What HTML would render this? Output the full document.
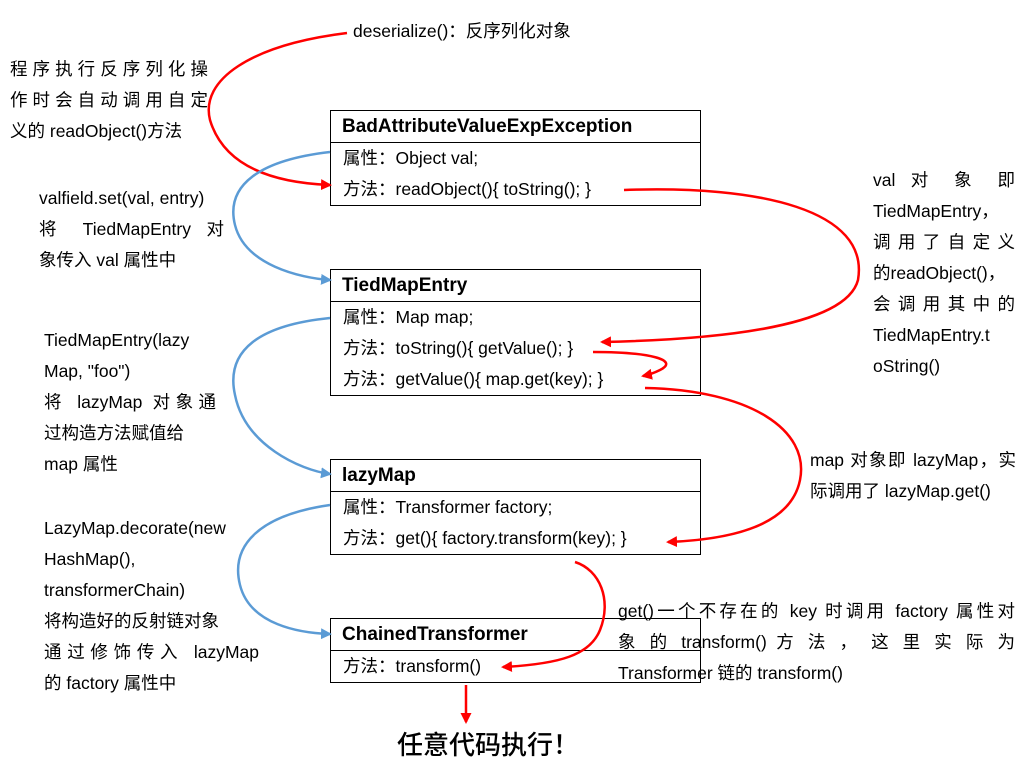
<!DOCTYPE html>
<html><head><meta charset="utf-8"><style>
html,body{margin:0;padding:0;background:#fff;}
body{width:1033px;height:766px;position:relative;overflow:hidden;font-family:"Liberation Sans","Noto Sans CJK SC",sans-serif;color:#000;}
.box{position:absolute;left:330px;width:369px;border:1.5px solid #000;}
.hd{height:31px;border-bottom:1.5px solid #000;font-weight:bold;font-size:19px;line-height:31px;padding-left:11px;}
.row{font-size:17.5px;height:31px;line-height:31px;padding-left:12px;}
.t{position:absolute;font-size:17.5px;line-height:31px;}
.t div{white-space:nowrap;}
.j{text-align:justify;text-align-last:justify;white-space:normal!important;}
svg{position:absolute;left:0;top:0;z-index:5;}
</style></head><body>
<div class="box" style="top:110px"><div class="hd">BadAttributeValueExpException</div><div class="row">属性：Object val;</div><div class="row">方法：readObject(){ toString(); }</div></div>
<div class="box" style="top:269px"><div class="hd">TiedMapEntry</div><div class="row">属性：Map map;</div><div class="row">方法：toString(){ getValue(); }</div><div class="row">方法：getValue(){ map.get(key); }</div></div>
<div class="box" style="top:459px"><div class="hd">lazyMap</div><div class="row">属性：Transformer factory;</div><div class="row">方法：get(){ factory.transform(key); }</div></div>
<div class="box" style="top:618px"><div class="hd">ChainedTransformer</div><div class="row">方法：transform()</div></div>

<div class="t" style="left:353px;top:16px">deserialize()：反序列化对象</div>
<div class="t" style="left:10px;top:54px;width:198px"><div class="j">程序执行反序列化操</div><div class="j">作时会自动调用自定</div><div>义的 readObject()方法</div></div>
<div class="t" style="left:39px;top:183px;width:185px"><div>valfield.set(val, entry)</div><div class="j">将 TiedMapEntry 对</div><div>象传入 val 属性中</div></div>
<div class="t" style="left:44px;top:325px;width:172px"><div>TiedMapEntry(lazy</div><div>Map, "foo")</div><div class="j">将 lazyMap 对象通</div><div>过构造方法赋值给</div><div>map 属性</div></div>
<div class="t" style="left:44px;top:513px;width:215px"><div>LazyMap.decorate(new</div><div>HashMap(),</div><div>transformerChain)</div><div>将构造好的反射链对象</div><div class="j">通过修饰传入 lazyMap</div><div>的 factory 属性中</div></div>
<div class="t" style="left:873px;top:165px;width:142px"><div class="j">val 对 象 即</div><div>TiedMapEntry，</div><div class="j">调用了自定义</div><div>的readObject()，</div><div class="j">会调用其中的</div><div>TiedMapEntry.t</div><div>oString()</div></div>
<div class="t" style="left:810px;top:445px;width:206px"><div class="j">map 对象即 lazyMap，实</div><div>际调用了 lazyMap.get()</div></div>
<div class="t" style="left:618px;top:596px;width:397px;"><div class="j">get()一个不存在的 key 时调用 factory 属性对</div><div class="j">象 的 transform() 方 法 ， 这 里 实 际 为</div><div>Transformer 链的 transform()</div></div>
<div class="t" style="left:397px;top:727px;font-size:26px;line-height:36px;font-weight:500;">任意代码执行！</div>

<svg width="1033" height="766">
<defs>
<marker id="ar" markerWidth="11" markerHeight="11" refX="9" refY="5.5" orient="auto" markerUnits="userSpaceOnUse"><path d="M0,0 L11,5.5 L0,11 z" fill="#f00"/></marker>
<marker id="ab" markerWidth="11" markerHeight="11" refX="9" refY="5.5" orient="auto" markerUnits="userSpaceOnUse"><path d="M0,0 L11,5.5 L0,11 z" fill="#5b9bd5"/></marker>
</defs>
<g fill="none" stroke-width="2.5">
<path d="M347,33 C250,45 200,80 210,120 C225,170 280,183 330,185" stroke="#f00" marker-end="url(#ar)"/>
<path d="M330,152 C260,160 225,185 235,225 C245,265 300,278 330,280" stroke="#5b9bd5" marker-end="url(#ab)"/>
<path d="M624,190 C760,185 870,210 858,280 C845,330 700,340 602,342" stroke="#f00" marker-end="url(#ar)"/>
<path d="M593,352 C650,352 680,360 660,370 C652,374 648,375 643,376" stroke="#f00" marker-end="url(#ar)"/>
<path d="M645,388 C750,390 810,430 800,480 C790,530 720,540 668,542" stroke="#f00" marker-end="url(#ar)"/>
<path d="M330,318 C260,325 225,350 235,395 C245,445 300,470 330,474" stroke="#5b9bd5" marker-end="url(#ab)"/>
<path d="M330,505 C260,515 230,545 240,585 C250,625 300,633 330,634" stroke="#5b9bd5" marker-end="url(#ab)"/>
<path d="M575,562 C600,570 612,600 600,630 C590,655 560,664 503,667" stroke="#f00" marker-end="url(#ar)"/>
<path d="M466,685 L466,722" stroke="#f00" marker-end="url(#ar)"/>
</g>
</svg>
</body></html>
